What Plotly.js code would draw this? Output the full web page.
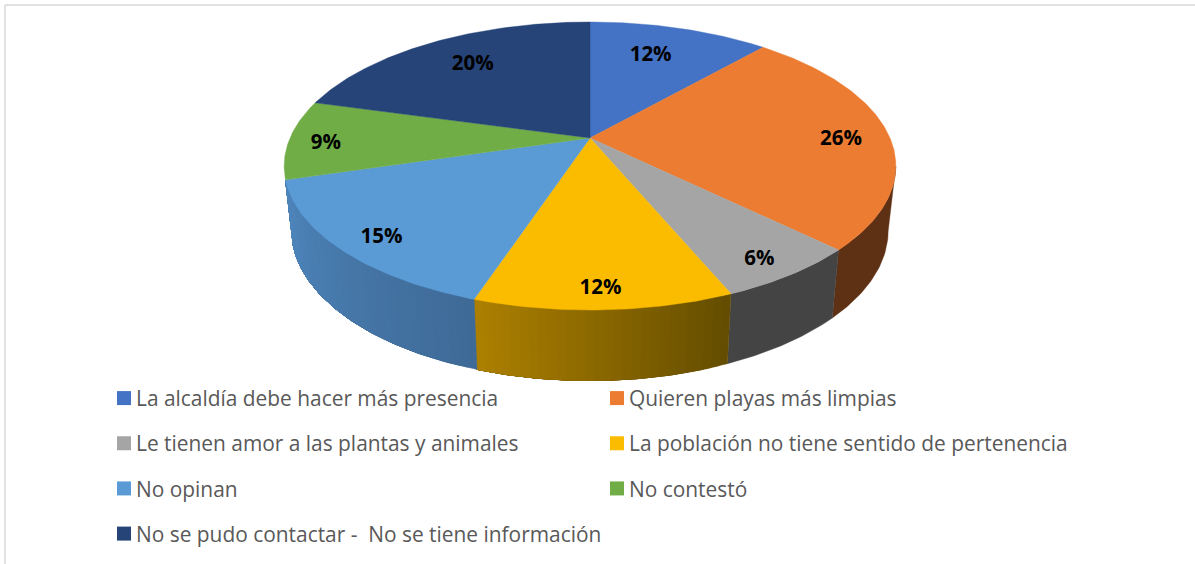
<!DOCTYPE html>
<html>
<head>
<meta charset="utf-8">
<script src="https://cdn.plot.ly/plotly-3.0.1.min.js"></script>
<style>html,body{margin:0;padding:0;background:#fff;overflow:hidden}#chart{width:1195px;height:564px}</style>
</head>
<body>
<div id="chart"></div>
<script>
// ---- data ----
const categories = [
  "La alcaldía debe hacer más presencia",
  "Quieren playas más limpias",
  "Le tienen amor a las plantas y animales",
  "La población no tiene sentido de pertenencia",
  "No opinan",
  "No contestó",
  "No se pudo contactar -  No se tiene información"
];
const shares = [11.5, 25.8, 6.4, 11.4, 15.3, 8.9, 20.7];
const shareLabels = ["12%", "26%", "6%", "12%", "15%", "9%", "20%"];

// ---- styles ----
const faceColors = ["#4472c4", "#ec7c31", "#a5a5a5", "#fbbc00", "#5b9bd5", "#70ad47", "#264478"];
const wallRight = ["#2f5090", "#5e3014", "#444444", "#634c00", "#3e6a96", "#4f7a30", "#1b3055"];
const wallLeft  = ["#2f5090", "#5e3014", "#444444", "#ad8000", "#4f86bd", "#4f7a30", "#1b3055"];

// ---- pie projection (pixel-valued axes, apex of the pie, perspective) ----
const cx = 590, cy = 138, R = 300, S = 138.6, k = 0.1945;
const wallScaleX = 0.975, wallScaleY = 1.04, wallDrop = 63.6;
const wallFrom = 101.2, wallTo = 253.3;
const labelAnchor = 0.65;
const labelDx = [-1, 57, 47, 2, -55, -69, -10];
const labelDy = [-6.5, 5.5, 38.5, 47.5, 31.5, 5.5, -8];

function rim(deg, r) {
  const a = deg * Math.PI / 180, u = r * Math.sin(a), v = r * Math.cos(a), w = 1 + k * v;
  return [cx + R * u / w, cy - S * v / w];
}
function lower(p) {
  return [cx + (p[0] - cx) * wallScaleX, cy + (p[1] - cy) * wallScaleY + wallDrop];
}
function mix(c1, c2, t) {
  const p = c => [1, 3, 5].map(i => parseInt(c.substr(i, 2), 16));
  const a = p(c1), b = p(c2);
  return "rgb(" + a.map((x, i) => Math.round(x + (b[i] - x) * t)).join(",") + ")";
}

const total = shares.reduce((s, x) => s + x, 0);
const edges = [0];
shares.forEach(s => edges.push(edges[edges.length - 1] + s / total * 360));

const traces = [];
const poly = (xs, ys, color) => ({
  type: "scatter", mode: "lines", x: xs, y: ys, fill: "toself", fillcolor: color,
  line: { color: color, width: 0.4 }, hoverinfo: "skip", showlegend: false
});

// front wall: overlapping pieces painted right to left give the shading without seams
shares.forEach((_, i) => {
  const a0 = Math.max(edges[i], wallFrom), a1 = Math.min(edges[i + 1], wallTo);
  if (a1 <= a0) return;
  const n = wallRight[i] === wallLeft[i] ? 1 : Math.ceil((a1 - a0) / 1.5);
  for (let j = 0; j < n; j++) {
    const s0 = a0 + (a1 - a0) * j / n;
    const xs = [], ys = [];
    const m = Math.max(3, Math.ceil((a1 - s0) / 0.75));
    for (let q = 0; q <= m; q++) { const p = rim(s0 + (a1 - s0) * q / m, 1); xs.push(p[0]); ys.push(p[1]); }
    for (let q = m; q >= 0; q--) { const p = lower(rim(s0 + (a1 - s0) * q / m, 1)); xs.push(p[0]); ys.push(p[1]); }
    xs.push(xs[0]); ys.push(ys[0]);
    traces.push(poly(xs, ys, mix(wallRight[i], wallLeft[i], (j + 0.5) / n)));
  }
});

// top face
shares.forEach((_, i) => {
  const xs = [cx], ys = [cy];
  const n = Math.ceil((edges[i + 1] - edges[i]) / 0.75);
  for (let q = 0; q <= n; q++) {
    const p = rim(edges[i] + (edges[i + 1] - edges[i]) * q / n, 1);
    xs.push(p[0]); ys.push(p[1]);
  }
  xs.push(cx); ys.push(cy);
  traces.push(poly(xs, ys, faceColors[i]));
});

// share labels
const lx = [], ly = [];
shares.forEach((_, i) => {
  const p = rim((edges[i] + edges[i + 1]) / 2, labelAnchor);
  lx.push(p[0] + labelDx[i]); ly.push(p[1] + labelDy[i]);
});
traces.push({
  type: "scatter", mode: "text", x: lx, y: ly, text: shareLabels, textposition: "middle center",
  textfont: { family: "Open Sans, sans-serif", size: 20.5, color: "#000000", weight: 700 },
  hoverinfo: "skip", showlegend: false
});

// legend entries: odd ones in the left column, even ones in the right
categories.forEach((name, i) => {
  traces.push({
    type: "scatter", mode: "markers", x: [null], y: [null], name: name,
    marker: { symbol: "square", size: 14, color: faceColors[i] },
    legend: i % 2 === 0 ? "legend" : "legend2",
    legendgroup: "g" + i, hoverinfo: "skip"
  });
});

const legendBase = {
  bgcolor: "rgba(0,0,0,0)", borderwidth: 0, orientation: "v", yanchor: "top", xanchor: "left",
  font: { family: "Open Sans, sans-serif", size: 20.9, color: "#595959" },
  tracegroupgap: 15, traceorder: "grouped", itemclick: false, itemdoubleclick: false
};

const layout = {
  width: 1195, height: 564,
  margin: { l: 0, r: 0, t: 0, b: 0 },
  paper_bgcolor: "#ffffff", plot_bgcolor: "#ffffff",
  xaxis: { range: [0, 1195], visible: false, fixedrange: true },
  yaxis: { range: [564, 0], visible: false, fixedrange: true },
  showlegend: true,
  legend: Object.assign({}, legendBase, { x: 96 / 1195, y: 1 - 378 / 564 }),
  legend2: Object.assign({}, legendBase, { x: 589 / 1195, y: 1 - 378 / 564 }),
  shapes: [
    { type: "line", xref: "paper", yref: "paper", x0: 5 / 1195, x1: 5 / 1195, y0: 0, y1: 1 - 5 / 564, line: { color: "#d9d9d9", width: 1.5 } },
    { type: "line", xref: "paper", yref: "paper", x0: 5 / 1195, x1: 1, y0: 1 - 5 / 564, y1: 1 - 5 / 564, line: { color: "#d9d9d9", width: 1.5 } }
  ]
};

Plotly.newPlot("chart", traces, layout, { displayModeBar: false }).then(() => {
  document.querySelectorAll(".legendsymbols").forEach(el => el.setAttribute("transform", "translate(8,0)"));
});
</script>
</body>
</html>
